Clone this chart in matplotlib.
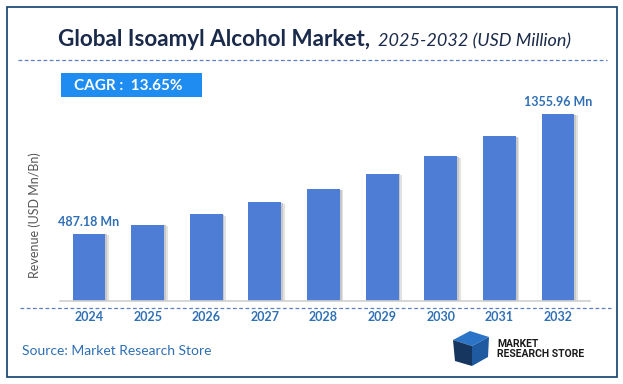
import matplotlib.pyplot as plt
from matplotlib.patches import Rectangle, Polygon
from matplotlib.lines import Line2D

years = ["2024", "2025", "2026", "2027", "2028", "2029", "2030", "2031", "2032"]
revenue = [487.18, 553.7, 629.3, 715.2, 812.8, 923.7, 1049.8, 1193.1, 1355.96]
first_label = "487.18 Mn"
last_label = "1355.96 Mn"
cagr_text = "CAGR :  13.65%"

W, H = 623, 384
fig = plt.figure(figsize=(W / 100, H / 100), dpi=100)
fig.patch.set_facecolor("white")

def fx(px):
    return px / W

def fy(py):
    return 1 - py / H

# outer border
fig.add_artist(Rectangle((fx(7), fy(377)), fx(610), (370) / H, transform=fig.transFigure,
                         fill=False, edgecolor="#1f4e79", linewidth=1.3))

# title
fig.text(fx(58), fy(40), "Global Isoamyl Alcohol Market,", fontsize=16.2, fontweight="bold",
         color="#1a2a4a", family="Lato", va="center", ha="left")
fig.text(fx(378), fy(41), "2025-2032 (USD Million)", fontsize=13, style="italic",
         color="#1a2a4a", family="Lato", va="center", ha="left")

# dashed separators
fig.add_artist(Line2D([fx(18), fx(607)], [fy(60), fy(60)], transform=fig.transFigure,
                      color="#5b7fc0", linewidth=0.9, linestyle=(0, (3, 2))))
fig.add_artist(Line2D([fx(20), fx(611)], [fy(308), fy(308)], transform=fig.transFigure,
                      color="#5b7fc0", linewidth=0.9, linestyle=(0, (3, 2))))

# CAGR box
fig.add_artist(Rectangle((fx(61), fy(97)), fx(141), 24 / H, transform=fig.transFigure,
                         facecolor="#1e8cf0", edgecolor="none"))
fig.text(fx(74), fy(85.5), cagr_text, fontsize=11, fontweight="bold", color="white",
         family="Lato", va="center", ha="left")

# bars with soft shadow
ax = fig.add_axes([fx(60), fy(301), fx(530), 241 / H])
x = list(range(len(years)))
ax.bar([i + 0.06 for i in x], [v - 10 for v in revenue], width=0.56, color="#e2e2e2", zorder=1)
ax.bar([i + 0.03 for i in x], [v - 5 for v in revenue], width=0.56, color="#c8c8c8", zorder=1.5)
ax.bar(x, revenue, width=0.56, color="#4d7dd5", zorder=2)
ax.set_xlim(-0.495, 8.546)
ax.set_ylim(0, 1747)
for s in ["top", "right", "left"]:
    ax.spines[s].set_visible(False)
ax.spines["bottom"].set_color("#d0d0d0")
ax.spines["bottom"].set_linewidth(1.2)
ax.set_yticks([])
ax.set_xticks(x)
ax.set_xticklabels(years, fontsize=9, fontweight="bold", color="#2e6fb5", family="Lato")
ax.tick_params(axis="x", length=0, pad=7)
ax.patch.set_alpha(0)

ax.annotate(first_label, (0, revenue[0]), xytext=(0, 4), textcoords="offset points",
            ha="center", va="bottom", fontsize=9, fontweight="bold", color="#2e6fb5", family="Lato")
ax.annotate(last_label, (8, revenue[-1]), xytext=(0, 4), textcoords="offset points",
            ha="center", va="bottom", fontsize=9, fontweight="bold", color="#2e6fb5", family="Lato")

fig.text(fx(35), fy(215), "Revenue (USD Mn/Bn)", rotation=90, fontsize=9, color="#555555",
         family="Lato", va="center", ha="center")

fig.text(fx(22), fy(351), "Source: Market Research Store", fontsize=10, color="#2e6fb5",
         family="Lato", va="center", ha="left")

# logo
fig.add_artist(Polygon([(fx(453), fy(340)), (fx(470), fy(331)), (fx(489), fy(337)), (fx(472), fy(346))],
                       closed=True, transform=fig.transFigure, facecolor="#2b74c7", edgecolor="none"))
fig.add_artist(Polygon([(fx(453), fy(340)), (fx(472), fy(346)), (fx(472), fy(366)), (fx(455), fy(361))],
                       closed=True, transform=fig.transFigure, facecolor="#16365f", edgecolor="none"))
fig.add_artist(Polygon([(fx(472), fy(346)), (fx(489), fy(337)), (fx(488), fy(357)), (fx(472), fy(366))],
                       closed=True, transform=fig.transFigure, facecolor="#1f5aa0", edgecolor="none"))
fig.text(fx(497), fy(344), "MARKET", fontsize=7.5, fontweight="bold", color="#1a1a1a",
         family="Roboto", va="center", ha="left")
fig.text(fx(497), fy(354), "RESEARCH STORE", fontsize=7.5, fontweight="bold", color="#1a1a1a",
         family="Roboto", va="center", ha="left")

fig.savefig("out.png", dpi=100)
